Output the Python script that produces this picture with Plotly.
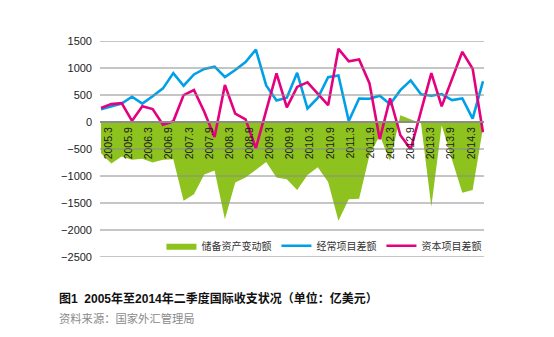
import plotly.graph_objects as go

quarters = [
    "2005.3", "2005.6", "2005.9", "2005.12",
    "2006.3", "2006.6", "2006.9", "2006.12",
    "2007.3", "2007.6", "2007.9", "2007.12",
    "2008.3", "2008.6", "2008.9", "2008.12",
    "2009.3", "2009.6", "2009.9", "2009.12",
    "2010.3", "2010.6", "2010.9", "2010.12",
    "2011.3", "2011.6", "2011.9", "2011.12",
    "2012.3", "2012.6", "2012.9", "2012.12",
    "2013.3", "2013.6", "2013.9", "2013.12",
    "2014.3", "2014.6",
]
tick_labels = [
    "2005.3", "2005.9", "2006.3", "2006.9", "2007.3", "2007.9", "2008.3",
    "2008.9", "2009.3", "2009.9", "2010.3", "2010.9", "2011.3", "2011.9",
    "2012.3", "2012.9", "2013.3", "2013.9", "2014.3",
]

# 储备资产变动额
reserve_change = [
    -580, -770, -640, -700,
    -680, -750, -700, -690,
    -1460, -1340, -970, -900,
    -1800, -1120, -1030, -880,
    -740, -1030, -1060, -1260,
    -980, -840, -1110, -1830,
    -1430, -1420, -620, -250,
    -720, 125, 40, -30,
    -1570, -60, -700, -1310,
    -1260, -110,
]
# 经常项目差额
current_account = [
    238, 295, 343, 468,
    341, 477, 622, 905,
    672, 880, 983, 1024,
    833, 962, 1110, 1340,
    678, 400, 450, 910,
    250, 445, 830, 860,
    20, 435, 430, 485,
    330, 590, 770, 515,
    487, 518, 407, 437,
    62, 755,
]
# 资本项目差额
capital_account = [
    260, 331, 350, 20,
    293, 240, -50, 12,
    498, 592, 190, -280,
    685, 156, 50, -485,
    210, 900, 270, 650,
    735, 530, 312, 1355,
    1125, 1160, 720, -320,
    440, -245, -505, 200,
    905, 290, 795, 1300,
    985, -190,
]

y_ticks = [1500, 1000, 500, 0, -500, -1000, -1500, -2000, -2500]

GREEN = "#8DC21F"
BLUE = "#00A0E9"
PINK = "#E4007F"
GRID = "#8c8c8c"
FONT = "Liberation Sans, Arial, Noto Sans CJK SC, sans-serif"

fig = go.Figure()
fig.add_trace(go.Scatter(
    x=quarters, y=reserve_change, name="储备资产变动额",
    mode="lines", fill="tozeroy", fillcolor=GREEN,
    line=dict(color=GREEN, width=0), hoverinfo="skip",
))
fig.add_trace(go.Scatter(
    x=quarters, y=current_account, name="经常项目差额",
    mode="lines", line=dict(color=BLUE, width=2.6),
))
fig.add_trace(go.Scatter(
    x=quarters, y=capital_account, name="资本项目差额",
    mode="lines", line=dict(color=PINK, width=2.6),
))
# invisible carrier for the category label axis
fig.add_trace(go.Scatter(
    x=quarters, y=reserve_change, xaxis="x2", mode="lines",
    line=dict(width=0), opacity=0, showlegend=False, hoverinfo="skip",
))

y0 = min(y_ticks)
y1 = max(y_ticks)
zero_frac = (0 - y0) / (y1 - y0)

for v in y_ticks:
    if v == 0:
        continue
    fig.add_shape(type="line", xref="paper", x0=0, x1=1, yref="y", y0=v, y1=v,
                  line=dict(color=GRID, width=1), layer="above")

fig.update_layout(
    width=554, height=337,
    margin=dict(l=100, r=70, t=41, b=80),
    paper_bgcolor="white", plot_bgcolor="white",
    font=dict(family=FONT, color="#222222"),
    showlegend=True,
    legend=dict(orientation="h", x=0.16, xanchor="left", y=0.052, yanchor="middle",
                font=dict(size=10, color="#333333"), bgcolor="rgba(0,0,0,0)",
                traceorder="normal"),
    xaxis=dict(type="category", range=[-0.1, 37.1], showticklabels=False,
               showgrid=False, zeroline=False, showline=False, ticks=""),
    xaxis2=dict(type="category", overlaying="x", categoryarray=quarters,
                categoryorder="array", range=[-0.86, 37.28],
                tickmode="array", tickvals=tick_labels, ticktext=tick_labels,
                tickangle=-90, ticks="", anchor="free", position=zero_frac,
                side="bottom", showline=True, linecolor=GRID, linewidth=2,
                showgrid=False, zeroline=False, layer="above traces",
                tickfont=dict(size=10.5, color="#1a1a1a")),
    yaxis=dict(range=[y0, y1], tickmode="array", tickvals=y_ticks,
               showgrid=False, zeroline=False, showline=False, ticks="",
               ticklabelstandoff=7, tickfont=dict(size=11, color="#222222")),
)

fig.add_annotation(
    text="<b>图1  2005年至2014年二季度国际收支状况（单位：亿美元）</b>",
    xref="paper", yref="paper", x=-0.112, y=-0.191, xanchor="left", yanchor="middle",
    showarrow=False, font=dict(size=12, color="#111111",
                               family="Liberation Sans, Noto Sans CJK SC, sans-serif"),
)
fig.add_annotation(
    text="资料来源：国家外汇管理局",
    xref="paper", yref="paper", x=-0.112, y=-0.284, xanchor="left", yanchor="middle",
    showarrow=False, font=dict(size=11.3, color="#8a8a8a",
                               family="Noto Sans CJK SC, sans-serif"),
)

fig.write_html("out.html")
